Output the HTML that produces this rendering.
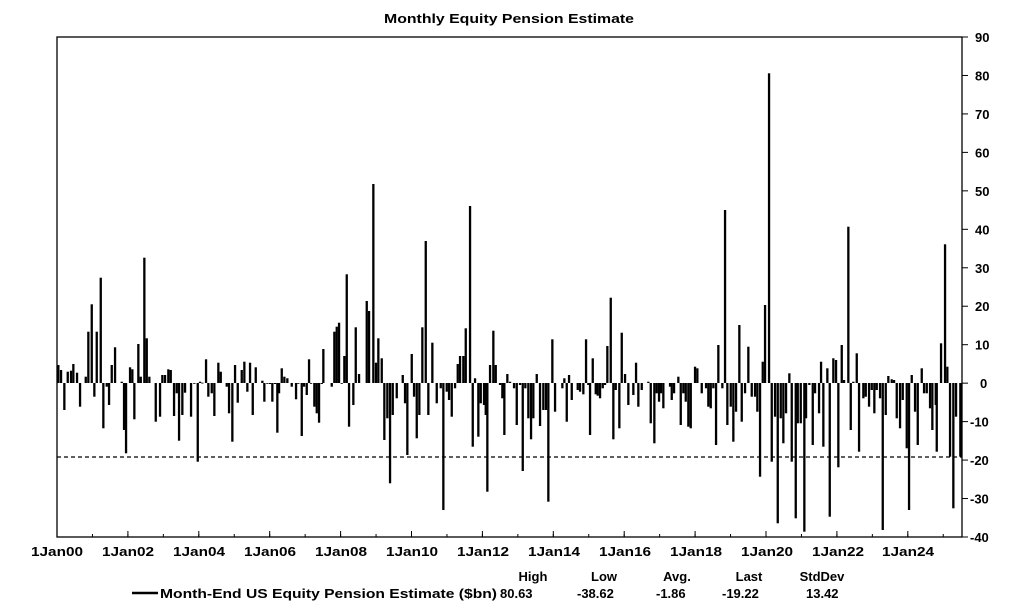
<!DOCTYPE html>
<html><head><meta charset="utf-8"><style>
html,body{margin:0;padding:0;background:#fff;}
svg{display:block;font-family:"Liberation Sans",Arial,sans-serif;font-weight:bold;}
</style></head><body>
<svg id="c" width="1023" height="614" viewBox="0 0 1023 614" xmlns="http://www.w3.org/2000/svg">
<text x="509" y="23" font-size="13" text-anchor="middle" textLength="250" lengthAdjust="spacingAndGlyphs">Monthly Equity Pension Estimate</text>
<rect x="57" y="37" width="905" height="500" fill="none" stroke="#000" stroke-width="1.3"/>
<line x1="57" y1="457" x2="962" y2="457" stroke="#000" stroke-width="1.2" stroke-dasharray="4,3"/>
<g id="bars" fill="#000"></g>
<g id="ticks" stroke="#000" stroke-width="1"></g>
<g font-size="13" text-anchor="middle">
<text x="57" y="556" textLength="52" lengthAdjust="spacingAndGlyphs">1Jan00</text>
<text x="128" y="556" textLength="52" lengthAdjust="spacingAndGlyphs">1Jan02</text>
<text x="199" y="556" textLength="52" lengthAdjust="spacingAndGlyphs">1Jan04</text>
<text x="270" y="556" textLength="52" lengthAdjust="spacingAndGlyphs">1Jan06</text>
<text x="341" y="556" textLength="52" lengthAdjust="spacingAndGlyphs">1Jan08</text>
<text x="412" y="556" textLength="52" lengthAdjust="spacingAndGlyphs">1Jan10</text>
<text x="483" y="556" textLength="52" lengthAdjust="spacingAndGlyphs">1Jan12</text>
<text x="554" y="556" textLength="52" lengthAdjust="spacingAndGlyphs">1Jan14</text>
<text x="625" y="556" textLength="52" lengthAdjust="spacingAndGlyphs">1Jan16</text>
<text x="696" y="556" textLength="52" lengthAdjust="spacingAndGlyphs">1Jan18</text>
<text x="767" y="556" textLength="52" lengthAdjust="spacingAndGlyphs">1Jan20</text>
<text x="838" y="556" textLength="52" lengthAdjust="spacingAndGlyphs">1Jan22</text>
<text x="908" y="556" textLength="52" lengthAdjust="spacingAndGlyphs">1Jan24</text>
</g>
<g font-size="13" text-anchor="start" id="ylab"></g>
<g font-size="13" text-anchor="middle">
<text x="533" y="581">High</text>
<text x="604" y="581">Low</text>
<text x="677" y="581">Avg.</text>
<text x="749" y="581">Last</text>
<text x="822" y="581">StdDev</text>
</g>
<line x1="132" y1="593" x2="158" y2="593" stroke="#000" stroke-width="2.5"/>
<g font-size="13">
<text x="160" y="598" textLength="337" lengthAdjust="spacingAndGlyphs">Month-End US Equity Pension Estimate ($bn)</text>
<text x="500" y="598">80.63</text>
<text x="577" y="598">-38.62</text>
<text x="656" y="598">-1.86</text>
<text x="722" y="598">-19.22</text>
<text x="806" y="598">13.42</text>
</g>
</svg>
<script>
var z1="10:375,18:390,28:510,38:395,48:392,55:372,66:398,75:500,92:410,100:275,110:193,118:470,125:275,137:113,145:565,155:440,162:495,170:375,180:322,200:425,207:570,213:640,225:382,232:388,238:538,250:312,257:410,268:53,275:295,283:410,302:545,315:530,322:405,330:405,340:388,347:390,357:528,365:460,372:602,382:525,390:458,408:530,418:430,428:665,435:425,442:428,453:358,460:470,470:460,478:528,490:368,497:395,515:440,522:520,532:605,540:375,548:488,560:390,568:365,577:455,585:368,593:525,602:382,622:422,628:485,637:430,645:432,652:485,660:432,667:578,672:460,680:385,688:410,697:415,710:440,723:478,730:430,740:588,747:440,755:465,762:358,768:430,778:500,785:520,792:548,800:432,805:327,830:440,838:275,845:260,852:248,860:430,868:348,875:103,882:560,895:495,902:262,912:402";
var z2="200:393,207:423,220:42,228:578,235:505,245:565,253:810,262:745,270:940,278:735,290:685,308:615,315:700,322:855,335:552,342:680,350:805,358:735,367:472,377:213,385:735,397:518,410:700,422:655,430:1020,440:665,447:690,455:740,465:655,473:582,480:558,490:558,497:475,510:108,518:830,525:625,535:800,542:700,552:705,557:735,562:965,570:585,580:482,587:585,600:645,607:685,613:795,622:612,630:635,642:655,650:765,660:645,668:903,676:655,685:745,693:808,700:745,710:612,720:768,730:720,738:720,745:995,757:508,765:725,787:655,793:625,800:755,807:615,815:690,833:660,840:665,850:673,858:508,865:645,870:795,878:565,887:673,893:677,900:685,908:655,915:645,922:528,932:383,940:808,947:660,958:775,965:488,975:612,985:705";
var z3="40:1005,48:908,55:1040,65:990,85:965,92:1090,103:1150,110:1000,117:1025,123:1000,130:1045,150:980,155:1020,162:1000,175:950,182:1095,190:1000,197:1025,205:1100,212:1105,225:920,232:925,245:1000,258:985,265:1040,272:1045,280:985,288:1155,295:855,307:985,315:450,322:1095,332:1040,340:1145,348:1055,358:795,365:1085,375:1000,385:860,395:1010,405:1010,412:1055,420:1250,428:905,435:735,447:40,455:1205,465:1070,473:1390,482:1075,490:1150,498:1060,508:940,515:1205,527:1375,533:1090,542:1090,553:1415,558:1075,568:975,578:1155,585:1000,597:1060,603:905,610:1160,622:925,629:1370,640:895,648:900,655:1222,665:855,672:960,685:500,692:1110,700:965,710:880,717:1175,730:1015,737:1010,747:1040,755:990,763:1060,770:990,780:1015,788:1410,797:1065,805:948,815:958,822:960,830:1075,840:1105,848:1020,860:1165,867:1350,875:945,885:1055,893:1155,905:925,912:1000,920:1000,930:1045,937:1110,947:1035,950:1175,963:850,975:553,982:920,990:1190,1000:1345,1008:1070,1021:1190";
var g=document.getElementById('bars'),NS="http://www.w3.org/2000/svg",h="";
function add(s,ox,oy){s.split(',').forEach(function(p){var a=p.split(':'),x=ox+a[0]/3,y=oy+a[1]/3,t=Math.min(y,383),hh=Math.abs(y-383);if(hh<0.8)hh=0.8;h+='<rect x="'+(x-1.1).toFixed(1)+'" y="'+t.toFixed(1)+'" width="2.3" height="'+hh.toFixed(1)+'"/>';});}
add(z1,55,240);add(z2,300,170);add(z3,620,60);
g.innerHTML=h;
var tk="",yl="";
for(var v=90;v>=-40;v-=10){var y=37+(90-v)*500/130;tk+='<line x1="962" y1="'+y+'" x2="968" y2="'+y+'"/>';yl+='<text x="'+(v<0?970:(v==0?980:975))+'" y="'+(y+5)+'">'+v+'</text>';}
for(var i=0;i<=12;i++){var x=57+i*70.9;tk+='<line x1="'+x+'" y1="537" x2="'+x+'" y2="531"/>';}
for(var i=0;i<26;i++){var x=57+i*35.45;tk+='<line x1="'+x+'" y1="537" x2="'+x+'" y2="534"/>';}
document.getElementById('ticks').innerHTML=tk;
document.getElementById('ylab').innerHTML=yl;
</script>
</body></html>
